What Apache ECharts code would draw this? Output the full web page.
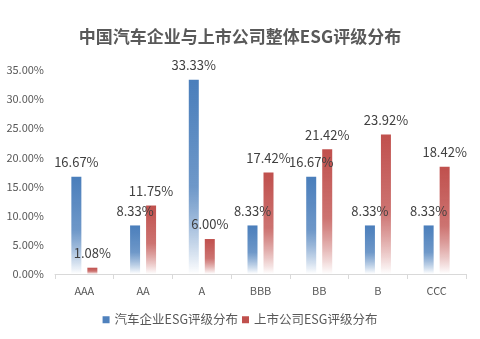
<!DOCTYPE html>
<html><head><meta charset="utf-8">
<script src="https://cdn.jsdelivr.net/npm/echarts@6/dist/echarts.min.js"></script>
<style>html,body{margin:0;padding:0;background:#fff}#c{width:480px;height:339px}</style>
</head><body><div id="c"></div>
<script>
const categories = ['AAA','AA','A','BBB','BB','B','CCC'];
const autoValues = [16.67, 8.33, 33.33, 8.33, 16.67, 8.33, 8.33];
const listedValues = [1.08, 11.75, 6.00, 17.42, 21.42, 23.92, 18.42];
const seriesNames = ['汽车企业ESG评级分布', '上市公司ESG评级分布'];
const titleText = '中国汽车企业与上市公司整体ESG评级分布';

const font = '"Microsoft YaHei","Noto Sans CJK SC",sans-serif';
function grad(c){
  return new echarts.graphic.LinearGradient(0,0,0,1,[
    {offset:0,color:c},{offset:0.55,color:c+'cc'},{offset:1,color:'#ffffff'}]);
}
const chart = echarts.init(document.getElementById('c'));
chart.setOption({
  animation:false,
  title:{text:titleText,left:'center',top:23,textStyle:{fontFamily:font,fontSize:17,fontWeight:'bold',color:'#595959'}},
  grid:{left:55,right:14,top:70,bottom:65,containLabel:false},
  legend:{bottom:8,left:'center',itemWidth:7,itemHeight:7,itemGap:4,icon:'rect',
    textStyle:{fontFamily:font,fontSize:12.5,color:'#595959'},
    data:[{name:seriesNames[0],itemStyle:{color:'#4f81bd'}},{name:seriesNames[1],itemStyle:{color:'#c0504d'}}]},
  xAxis:{type:'category',data:categories,
    axisLine:{lineStyle:{color:'#d9d9d9'}},axisTick:{show:true,length:5,lineStyle:{color:'#d9d9d9'}},
    axisLabel:{fontFamily:font,fontSize:11,color:'#595959',margin:11}},
  yAxis:{type:'value',min:0,max:35,interval:5,splitLine:{show:false},axisLine:{show:false},axisTick:{show:false},
    axisLabel:{fontFamily:font,fontSize:11,color:'#595959',margin:11,formatter:v=>v.toFixed(2)+'%'}},
  series:[
    {name:seriesNames[0],type:'bar',data:autoValues,barWidth:10,barGap:'60%',
     itemStyle:{color:grad('#4a7ebb')},
     label:{show:true,position:'top',distance:8,fontFamily:font,fontSize:13,color:'#404040',formatter:p=>p.value.toFixed(2)+'%'}},
    {name:seriesNames[1],type:'bar',data:listedValues,barWidth:10,
     itemStyle:{color:grad('#c0504d')},
     label:{show:true,position:'top',distance:8,fontFamily:font,fontSize:13,color:'#404040',formatter:p=>p.value.toFixed(2)+'%'}}
  ]
});
</script></body></html>
